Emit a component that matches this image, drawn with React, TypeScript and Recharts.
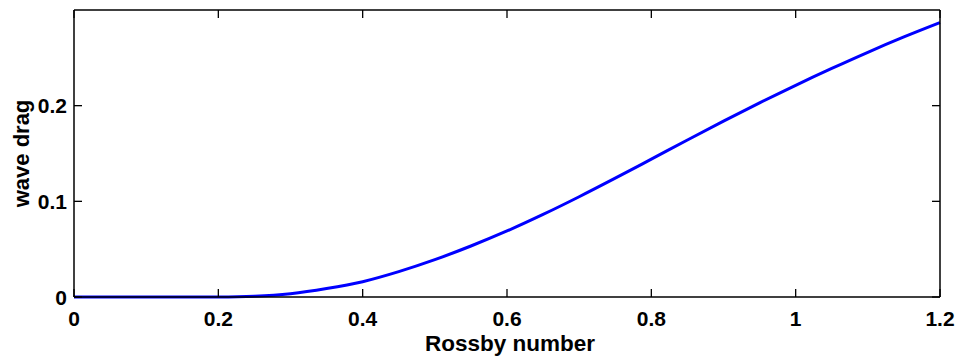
import { LineChart, Line, XAxis, YAxis, Label } from 'recharts';

// Rossby number samples and the wave drag
const rossby = [
  0, 0.05, 0.1, 0.15, 0.2, 0.25, 0.3, 0.35, 0.4, 0.45, 0.5, 0.55, 0.6,
  0.65, 0.7, 0.75, 0.8, 0.85, 0.9, 0.95, 1.0, 1.05, 1.1, 1.15, 1.2,
];
const waveDrag = [
  0, 0, 0, 0, 0.0001, 0.0009, 0.0035, 0.0088, 0.016, 0.0265, 0.039, 0.0533, 0.069,
  0.0863, 0.1048, 0.1242, 0.1441, 0.1641, 0.1838, 0.2029, 0.2213, 0.2389, 0.2558, 0.2718, 0.2868,
];
const xTicks = [0, 0.2, 0.4, 0.6, 0.8, 1, 1.2];
const yTicks = [0, 0.1, 0.2];

const FONT = '"Liberation Sans", Arial, Helvetica, sans-serif';
const TICK_LEN = 8;
const TICK_COLOR = '#000';

const chartData = rossby.map((r, i) => ({ rossby: r, drag: waveDrag[i] }));

// ticks point inwards (matlab style), so every tick draws its own little line
const BottomTick = (props: any) => {
  const { x, y, payload } = props;
  return (
    <g>
      <path d={`M${x},${y}V${y - TICK_LEN}`} stroke={TICK_COLOR} strokeWidth={1.3} fill="none" />
      <text x={x} y={y + 28.5} textAnchor="middle" fontFamily={FONT} fontWeight="bold" fontSize={21} fill="#000">
        {payload.value}
      </text>
    </g>
  );
};

const LeftTick = (props: any) => {
  const { x, y, payload } = props;
  return (
    <g>
      <path d={`M${x},${y}H${x + TICK_LEN}`} stroke={TICK_COLOR} strokeWidth={1.3} fill="none" />
      <text x={x - 7} y={y + 7.5} textAnchor="end" fontFamily={FONT} fontWeight="bold" fontSize={21} fill="#000">
        {payload.value}
      </text>
    </g>
  );
};

const TopTick = (props: any) => {
  const { x, y } = props;
  return <path d={`M${x},${y}V${y + TICK_LEN}`} stroke={TICK_COLOR} strokeWidth={1.3} fill="none" />;
};

const RightTick = (props: any) => {
  const { x, y } = props;
  return <path d={`M${x},${y}H${x - TICK_LEN}`} stroke={TICK_COLOR} strokeWidth={1.3} fill="none" />;
};

const axisStyle = { stroke: '#000', strokeWidth: 1.5 };

export default function App() {
  return (
    <div style={{ position: 'absolute', left: 0, top: 0, background: '#fff' }}>
      <LineChart width={963} height={364} data={chartData} margin={{ top: 9, right: 22, bottom: 0, left: 0 }}>
        <XAxis
          xAxisId="bottom"
          dataKey="rossby"
          type="number"
          domain={[0, 1.2]}
          ticks={xTicks}
          height={67}
          tickSize={0}
          tickMargin={0}
          tickLine={false}
          axisLine={axisStyle}
          tick={<BottomTick />}
          interval={0}
        >
          <Label
            content={(p: any) => {
              const vb = p.viewBox;
              return (
                <text x={vb.x + vb.width / 2 + 3} y={vb.y + 54} textAnchor="middle" fontFamily={FONT} fontWeight="bold" fontSize={22.5} fill="#000">
                  Rossby number
                </text>
              );
            }}
          />
        </XAxis>
        <XAxis
          xAxisId="top"
          orientation="top"
          dataKey="rossby"
          type="number"
          domain={[0, 1.2]}
          ticks={xTicks}
          height={1}
          tickSize={0}
          tickMargin={0}
          tickLine={false}
          axisLine={axisStyle}
          tick={<TopTick />}
          interval={0}
        />
        <YAxis
          yAxisId="left"
          type="number"
          domain={[0, 0.3]}
          ticks={yTicks}
          width={74}
          tickSize={0}
          tickMargin={0}
          tickLine={false}
          axisLine={axisStyle}
          tick={<LeftTick />}
          interval={0}
        >
          <Label
            content={(p: any) => {
              const vb = p.viewBox;
              const cx = 29;
              const cy = vb.y + vb.height / 2;
              return (
                <text x={cx} y={cy} transform={`rotate(-90 ${cx} ${cy})`} textAnchor="middle" fontFamily={FONT} fontWeight="bold" fontSize={22} fill="#000">
                  wave drag
                </text>
              );
            }}
          />
        </YAxis>
        <YAxis
          yAxisId="right"
          orientation="right"
          type="number"
          domain={[0, 0.3]}
          ticks={yTicks}
          width={1}
          tickSize={0}
          tickMargin={0}
          tickLine={false}
          axisLine={axisStyle}
          tick={<RightTick />}
          interval={0}
        />
        {/* invisible copy so the top and right axes are in use */}
        <Line
          xAxisId="top"
          yAxisId="right"
          dataKey="drag"
          stroke="none"
          dot={false}
          activeDot={false}
          isAnimationActive={false}
        />
        <Line
          xAxisId="bottom"
          yAxisId="left"
          dataKey="drag"
          type="monotone"
          stroke="#0000ff"
          strokeWidth={3}
          dot={false}
          isAnimationActive={false}
        />
      </LineChart>
    </div>
  );
}
